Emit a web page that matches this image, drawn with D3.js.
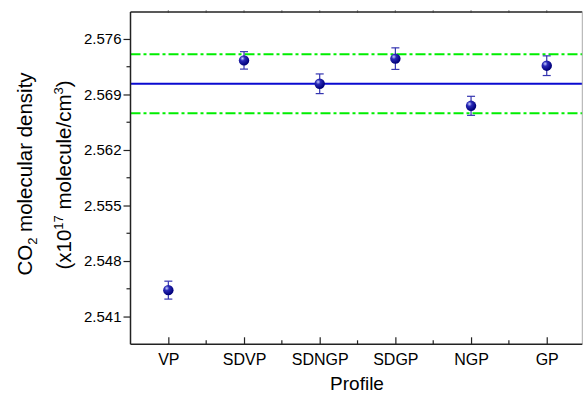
<!DOCTYPE html>
<html><head><meta charset="utf-8">
<script src="https://cdn.jsdelivr.net/npm/d3@7"></script>
<style>body{margin:0;background:#fff}svg{display:block}text{font-family:"Liberation Sans",Arial,sans-serif;fill:#000}</style>
</head><body><svg id="c" width="584" height="396"></svg>
<script>
const categories = ["VP","SDVP","SDNGP","SDGP","NGP","GP"];
const values = [2.54433, 2.5733, 2.57035, 2.57352, 2.56757, 2.57263];
const errors = [0.00113, 0.0011, 0.00124, 0.00136, 0.0012, 0.00124];
const meanLine = 2.57035;
const bandLines = [2.57406, 2.56664];
const yTicks = [2.541, 2.548, 2.555, 2.562, 2.569, 2.576];
const yMinor = [2.5445, 2.5515, 2.5585, 2.5655, 2.5725];

const svg = d3.select("#c");
const L = 130.5, R = 582.3, T = 12, B = 344.3;
const x = d3.scaleLinear().domain([0.5, 6.47]).range([L, R]);
const y = d3.scaleLinear().domain([2.5375, 2.5794]).range([B, T]);

const defs = svg.append("defs");
const g = defs.append("radialGradient").attr("id","ball").attr("cx","35%").attr("cy","32%").attr("r","65%");
g.append("stop").attr("offset","0%").attr("stop-color","#c8d0ff");
g.append("stop").attr("offset","35%").attr("stop-color","#2a2ab8");
g.append("stop").attr("offset","100%").attr("stop-color","#00007a");

// reference lines
svg.append("line").attr("x1",L).attr("x2",R).attr("y1",y(meanLine)).attr("y2",y(meanLine))
  .attr("stroke","#0a0ad0").attr("stroke-width",2);
svg.selectAll(".band").data(bandLines).enter().append("line")
  .attr("x1",L).attr("x2",R).attr("y1",d=>y(d)).attr("y2",d=>y(d))
  .attr("stroke","#00ee00").attr("stroke-width",2).attr("stroke-dasharray","10,3,3,3");

// error bars
const eb = svg.append("g").attr("stroke","#3535b0").attr("stroke-width",1.2);
categories.forEach((c,i)=>{
  const cx = x(i+1);
  eb.append("line").attr("x1",cx).attr("x2",cx).attr("y1",y(values[i]+errors[i])).attr("y2",y(values[i]-errors[i]));
  eb.append("line").attr("x1",cx-4).attr("x2",cx+4).attr("y1",y(values[i]+errors[i])).attr("y2",y(values[i]+errors[i]));
  eb.append("line").attr("x1",cx-4).attr("x2",cx+4).attr("y1",y(values[i]-errors[i])).attr("y2",y(values[i]-errors[i]));
});
svg.selectAll(".pt").data(values).enter().append("circle")
  .attr("cx",(d,i)=>x(i+1)).attr("cy",d=>y(d)).attr("r",5.2).attr("fill","url(#ball)");

// frame top/right
svg.append("line").attr("x1",L).attr("x2",R).attr("y1",T).attr("y2",T).attr("stroke","#222").attr("stroke-width",1.5);
svg.append("line").attr("x1",R).attr("x2",R).attr("y1",T).attr("y2",B).attr("stroke","#aaa").attr("stroke-width",1);

// left axis
const ya = svg.append("g").attr("transform",`translate(${L},0)`)
  .call(d3.axisLeft(y).tickValues(yTicks).tickFormat(d3.format(".3f")).tickSize(7).tickPadding(2));
ya.select(".domain").remove();
ya.append("line").attr("x1",0).attr("x2",0).attr("y1",T).attr("y2",B).attr("stroke","#222").attr("stroke-width",1.5);
ya.selectAll(".tick line").attr("stroke","#222").attr("stroke-width",1.2);
ya.selectAll("text").attr("font-size","15px").style("font-family","'Liberation Sans',Arial,sans-serif");
svg.append("g").selectAll("line").data(yMinor).enter().append("line")
  .attr("x1",L-4).attr("x2",L).attr("y1",d=>y(d)).attr("y2",d=>y(d)).attr("stroke","#222").attr("stroke-width",1.2);

// bottom axis
const xa = svg.append("g").attr("transform",`translate(0,${B})`)
  .call(d3.axisBottom(x).tickValues(d3.range(1,7)).tickFormat(i=>categories[i-1]).tickSizeInner(-7).tickSizeOuter(0).tickPadding(9));
xa.select(".domain").remove();
xa.append("line").attr("x1",L).attr("x2",R).attr("stroke","#222").attr("stroke-width",1.5);
xa.selectAll(".tick line").attr("stroke","#222").attr("stroke-width",1.2);
xa.selectAll("text").attr("font-size","16px").style("font-family","'Liberation Sans',Arial,sans-serif");
svg.append("g").selectAll("line").data([1.5,2.5,3.5,4.5,5.5]).enter().append("line")
  .attr("x1",d=>x(d)).attr("x2",d=>x(d)).attr("y1",B-4).attr("y2",B).attr("stroke","#222").attr("stroke-width",1.2);
// top ticks
svg.append("g").selectAll("line").data([1,1.5,2,2.5,3,3.5,4,4.5,5,5.5,6]).enter().append("line")
  .attr("x1",d=>x(d)).attr("x2",d=>x(d)).attr("y1",T-1.5).attr("y2",T+1).attr("stroke","#444").attr("stroke-width",1.2);

// titles
svg.append("text").attr("x",357).attr("y",390).attr("text-anchor","middle").attr("font-size","19px").text("Profile");
const t1 = svg.append("text").attr("transform","translate(31.5,174) rotate(-90)").attr("text-anchor","middle").attr("font-size","20.5px");
t1.append("tspan").text("CO");
t1.append("tspan").attr("font-size","13px").attr("dy",5).text("2");
t1.append("tspan").attr("dy",-5).text(" molecular density");
const t2 = svg.append("text").attr("transform","translate(70.5,175) rotate(-90)").attr("text-anchor","middle").attr("font-size","20.5px");
t2.append("tspan").text("(x10");
t2.append("tspan").attr("font-size","13px").attr("dy",-8).text("17");
t2.append("tspan").attr("dy",8).text(" molecule/cm");
t2.append("tspan").attr("font-size","13px").attr("dy",-8).text("3");
t2.append("tspan").attr("dy",8).text(")");
</script></body></html>
